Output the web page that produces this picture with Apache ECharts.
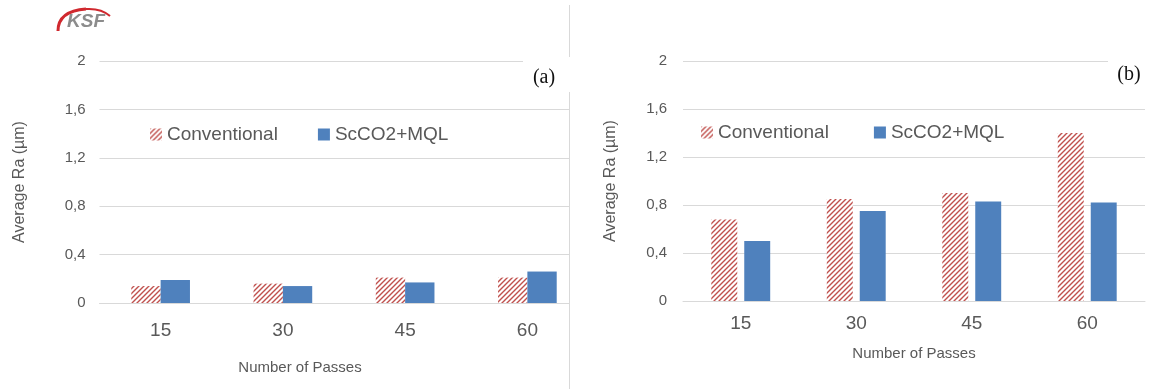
<!DOCTYPE html>
<html><head><meta charset="utf-8">
<script src="https://cdn.jsdelivr.net/npm/echarts@6/dist/echarts.min.js"></script>
<style>html,body{margin:0;padding:0;background:#fff}#c{width:1151px;height:389px}</style>
</head><body><div id="c"></div>
<script>
const categories = ['15', '30', '45', '60'];
const seriesNames = ['Conventional', 'ScCO2+MQL'];
const convA = [0.14, 0.16, 0.21, 0.21];
const mqlA = [0.19, 0.14, 0.17, 0.26];
const convB = [0.68, 0.85, 0.90, 1.40];
const mqlB = [0.50, 0.75, 0.83, 0.82];
const yTickLabels = ['0', '0,4', '0,8', '1,2', '1,6', '2'];
const yName = 'Average Ra (µm)';
const xName = 'Number of Passes';

const FONT = "'Liberation Sans Narrow', 'Liberation Sans', Arial, sans-serif";
const TXT = '#595959';
const GRIDC = '#D9D9D9';
const RED = '#C0504D';
const BLUE = '#4F81BD';

function stripeCanvas() {
  const s = 5;
  const c = document.createElement('canvas');
  c.width = s; c.height = s;
  const g = c.getContext('2d');
  g.fillStyle = '#fff'; g.fillRect(0, 0, s, s);
  g.strokeStyle = RED; g.lineWidth = 1.4;
  g.beginPath();
  g.moveTo(-1, s + 1); g.lineTo(s + 1, -1);
  g.moveTo(-1, 1); g.lineTo(1, -1);
  g.moveTo(s - 1, s + 1); g.lineTo(s + 1, s - 1);
  g.stroke();
  return c;
}
const stripe = { image: stripeCanvas(), repeat: 'repeat' };

function yAxis(gi, margin, gap) {
  return {
    type: 'value', gridIndex: gi, min: 0, max: 2, interval: 0.4,
    axisLine: { show: false }, axisTick: { show: false },
    splitLine: { lineStyle: { color: GRIDC, width: 1 } },
    axisLabel: { color: TXT, fontFamily: FONT, fontSize: 15, margin: margin,
      formatter: v => yTickLabels[Math.round(v / 0.4)] },
    name: yName, nameLocation: 'middle', nameGap: gap, nameRotate: 90,
    nameTextStyle: { color: TXT, fontFamily: FONT, fontSize: 16 }
  };
}
function xAxis(gi, margin, gap, pad) {
  return {
    type: 'category', gridIndex: gi, data: categories,
    axisLine: { lineStyle: { color: GRIDC, width: 1 } }, axisTick: { show: false },
    axisLabel: { color: TXT, fontFamily: FONT, fontSize: 19, margin: margin },
    name: xName, nameLocation: 'middle', nameGap: gap,
    nameTextStyle: { color: TXT, fontFamily: FONT, fontSize: 15, padding: pad }
  };
}
function bar(name, data, gi, color, gap, catGap) {
  return {
    name: name, type: 'bar', xAxisIndex: gi, yAxisIndex: gi, data: data,
    barGap: gap, barCategoryGap: catGap,
    itemStyle: { color: color }, emphasis: { disabled: true }
  };
}

const chart = echarts.init(document.getElementById('c'), null, { renderer: 'canvas' });
chart.setOption({
  animation: false,
  backgroundColor: '#fff',
  grid: [
    { left: 99.5, top: 61, width: 489, height: 242 },
    { left: 683, top: 61, width: 462, height: 240 }
  ],
  xAxis: [xAxis(0, 18, 57, [0, 88, 0, 0]), xAxis(1, 13, 45, [0, 0, 0, 0])],
  yAxis: [yAxis(0, 14, 72), yAxis(1, 16, 64)],
  legend: [
    { left: 145, top: 120, icon: 'rect', itemWidth: 12, itemHeight: 12, itemGap: 40,
      textStyle: { color: TXT, fontFamily: FONT, fontSize: 19 },
      data: [{ name: seriesNames[0], itemStyle: { color: stripe } }, seriesNames[1]] },
    { left: 696, top: 118, icon: 'rect', itemWidth: 12, itemHeight: 12, itemGap: 45,
      textStyle: { color: TXT, fontFamily: FONT, fontSize: 19 },
      data: [{ name: seriesNames[0], itemStyle: { color: stripe } }, seriesNames[1]] }
  ],
  series: [
    bar(seriesNames[0], convA, 0, stripe, '0%', '52%'),
    bar(seriesNames[1], mqlA, 0, BLUE, '0%', '52%'),
    bar(seriesNames[0], convB, 1, stripe, '27%', '49%'),
    bar(seriesNames[1], mqlB, 1, BLUE, '27%', '49%')
  ],
  graphic: [
    { type: 'rect', z: 10, shape: { x: 570, y: 0, width: 28, height: 389 }, style: { fill: '#fff' } },
    { type: 'rect', z: 10, shape: { x: 523, y: 56, width: 80, height: 37 }, style: { fill: '#fff' } },
    { type: 'rect', z: 10, shape: { x: 1108, y: 56, width: 43, height: 37 }, style: { fill: '#fff' } },
    { type: 'line', z: 11, shape: { x1: 569.5, y1: 5, x2: 569.5, y2: 57 }, style: { stroke: GRIDC, lineWidth: 1 } },
    { type: 'line', z: 11, shape: { x1: 569.5, y1: 92, x2: 569.5, y2: 389 }, style: { stroke: GRIDC, lineWidth: 1 } },
    { type: 'text', z: 12, x: 544, y: 78, style: { text: '(a)', fill: '#111', font: "20px 'Liberation Serif', serif", textAlign: 'center', textVerticalAlign: 'middle' } },
    { type: 'text', z: 12, x: 1129, y: 75, style: { text: '(b)', fill: '#111', font: "20px 'Liberation Serif', serif", textAlign: 'center', textVerticalAlign: 'middle' } },
    { type: 'bezierCurve', z: 12, shape: { x1: 58, y1: 31, cpx1: 58, cpy1: 11, x2: 86, y2: 9 }, style: { stroke: '#D0282E', lineWidth: 3, fill: null } },
    { type: 'bezierCurve', z: 12, shape: { x1: 86, y1: 9, cpx1: 101, cpy1: 8, x2: 110, y2: 16 }, style: { stroke: '#D0282E', lineWidth: 2, fill: null } },
    { type: 'text', z: 12, x: 86, y: 22, style: { text: 'KSF', fill: '#8C8C8C', font: "italic bold 19px 'Liberation Sans', Arial, sans-serif", textAlign: 'center', textVerticalAlign: 'middle' } }
  ]
});
</script></body></html>
